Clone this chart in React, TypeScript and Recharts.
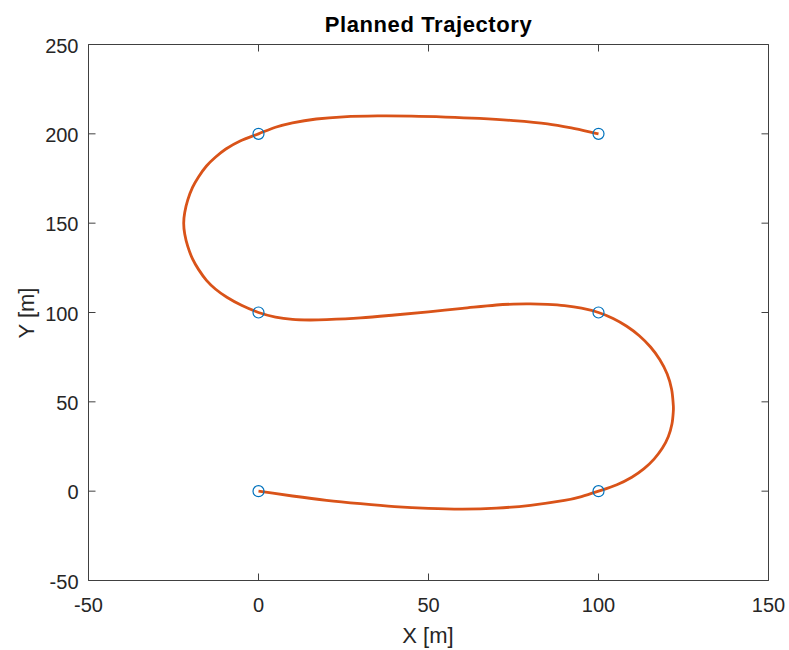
import { ComposedChart, Line, Scatter, XAxis, YAxis } from "recharts";

// trajectory samples, in path order
const trajX = [
  0, 10, 20, 30, 40, 50, 60, 70, 80, 90, 95, 100,
  105.4, 109.8, 113.4, 116.4, 118.8, 120.55, 121.6, 122, 122, 121.5, 120.2, 118.05, 115.3, 112, 108.3, 104.3, 100,
  95, 90, 85, 80, 75, 70, 60, 50, 40, 30, 20, 15, 10, 5, 0,
  -5, -9.3, -12.6, -15.3, -17.6, -19.4, -20.8, -21.7, -22, -21.7, -20.8, -19.4, -17.6, -15.3, -12.6, -9.6, -5.4, 0,
  5, 10, 17, 25, 35, 45, 55, 65, 75, 85, 92, 100,
];
const trajY = [
  0, -2.7, -5.1, -7, -8.6, -9.6, -10, -9.5, -7.9, -5.2, -3, 0,
  3.6, 7.8, 12.6, 18.1, 24.1, 30.6, 37.6, 44.6, 48.2, 57.1, 65.6, 73.6, 80.7, 87, 92.3, 96.65, 100,
  102.4, 103.8, 104.5, 104.8, 104.7, 104.2, 102.3, 100.4, 98.6, 97, 96, 95.8, 96.1, 97.4, 100,
  104, 108.5, 113, 118, 124, 130, 137, 144, 150, 156, 163, 170, 176, 182, 187, 191.5, 196, 200,
  203.7, 206.2, 208.3, 209.5, 210, 209.9, 209.4, 208.6, 207.4, 205.6, 203.3, 200,
];

// waypoints (circles)
const waypointX = [0, 100, 100, 0, 0, 100];
const waypointY = [0, 0, 100, 100, 200, 200];

const xTicks = [-50, 0, 50, 100, 150];
const yTicks = [-50, 0, 50, 100, 150, 200, 250];

const trajectory = trajX.map((x, i) => ({ x, y: trajY[i] }));
const waypoints = waypointX.map((x, i) => ({ x, y: waypointY[i] }));

const font = "'Liberation Sans', Arial, Helvetica, sans-serif";
const axisColor = "#404040";
const textColor = "#262626";
const tickLen = 7;

// chord-length catmull-rom style curve, handles loops and uneven spacing
const smoothCurve = (context: any) => {
  let pts: number[][] = [];
  return {
    areaStart() {},
    areaEnd() {},
    lineStart() {
      pts = [];
    },
    point(x: number, y: number) {
      pts.push([+x, +y]);
    },
    lineEnd() {
      const n = pts.length;
      if (!n) return;
      context.moveTo(pts[0][0], pts[0][1]);
      if (n === 1) return;
      const d: number[] = [];
      for (let i = 0; i < n - 1; i++) {
        d.push(Math.hypot(pts[i + 1][0] - pts[i][0], pts[i + 1][1] - pts[i][1]) || 1e-6);
      }
      const tan = pts.map((_, i) => {
        const a = pts[Math.max(i - 1, 0)];
        const b = pts[Math.min(i + 1, n - 1)];
        const len = (i > 0 ? d[i - 1] : 0) + (i < n - 1 ? d[i] : 0);
        return [(b[0] - a[0]) / len, (b[1] - a[1]) / len];
      });
      for (let i = 0; i < n - 1; i++) {
        const p = pts[i];
        const q = pts[i + 1];
        const k = d[i] / 3;
        context.bezierCurveTo(
          p[0] + tan[i][0] * k,
          p[1] + tan[i][1] * k,
          q[0] - tan[i + 1][0] * k,
          q[1] - tan[i + 1][1] * k,
          q[0],
          q[1]
        );
      }
    },
  };
};

const BottomTick = (props: any) => {
  const { x, y, payload } = props;
  return (
    <g>
      <line x1={x} x2={x} y1={y} y2={y - tickLen} stroke={axisColor} />
      <text x={x} y={y + 31} textAnchor="middle" fontSize={20} fontFamily={font} fill={textColor}>
        {payload.value}
      </text>
    </g>
  );
};

const LeftTick = (props: any) => {
  const { x, y, payload } = props;
  return (
    <g>
      <line x1={x} x2={x + tickLen} y1={y} y2={y} stroke={axisColor} />
      <text x={x - 10} y={y + 8} textAnchor="end" fontSize={20} fontFamily={font} fill={textColor}>
        {payload.value}
      </text>
    </g>
  );
};

const TopTick = (props: any) => (
  <line x1={props.x} x2={props.x} y1={props.y} y2={props.y + tickLen} stroke={axisColor} />
);

const RightTick = (props: any) => (
  <line x1={props.x} x2={props.x - tickLen} y1={props.y} y2={props.y} stroke={axisColor} />
);

const Ring = (props: any) => (
  <circle cx={props.cx} cy={props.cy} r={5.5} fill="none" stroke="#0072BD" strokeWidth={1.2} />
);

export default function App() {
  return (
    <div style={{ position: "absolute", left: 0, top: 0, background: "#fff" }}>
      <ComposedChart
        width={789}
        height={650}
        margin={{ top: 43.5, right: 19.5, bottom: 0, left: 0.5 }}
      >
        <XAxis
          dataKey="x"
          type="number"
          domain={[-50, 150]}
          ticks={xTicks}
          interval={0}
          allowDataOverflow
          height={69.5}
          tickSize={0}
          tickMargin={0}
          tickLine={false}
          axisLine={{ stroke: axisColor }}
          tick={<BottomTick />}
        />
        <XAxis
          xAxisId="top"
          orientation="top"
          dataKey="x"
          type="number"
          domain={[-50, 150]}
          ticks={xTicks}
          interval={0}
          allowDataOverflow
          height={1}
          tickSize={0}
          tickMargin={0}
          tickLine={false}
          axisLine={{ stroke: axisColor }}
          tick={<TopTick />}
        />
        <YAxis
          type="number"
          domain={[-50, 250]}
          ticks={yTicks}
          interval={0}
          allowDataOverflow
          width={88}
          tickSize={0}
          tickMargin={0}
          tickLine={false}
          axisLine={{ stroke: axisColor }}
          tick={<LeftTick />}
        />
        <YAxis
          yAxisId="right"
          orientation="right"
          type="number"
          domain={[-50, 250]}
          ticks={yTicks}
          interval={0}
          allowDataOverflow
          width={1}
          tickSize={0}
          tickMargin={0}
          tickLine={false}
          axisLine={{ stroke: axisColor }}
          tick={<RightTick />}
        />
        <Scatter data={waypoints} dataKey="y" shape={<Ring />} isAnimationActive={false} />
        <Line
          data={trajectory}
          dataKey="y"
          type={smoothCurve as any}
          stroke="#D95319"
          strokeWidth={2.8}
          dot={false}
          activeDot={false}
          isAnimationActive={false}
        />
        <text x={428.5} y={32} textAnchor="middle" fontSize={22} fontWeight="bold" fontFamily={font} fill="#000" letterSpacing={0.6}>
          Planned Trajectory
        </text>
        <text x={428} y={643} textAnchor="middle" fontSize={22} fontFamily={font} fill={textColor}>
          X [m]
        </text>
        <text x={34} y={313} textAnchor="middle" fontSize={22} fontFamily={font} fill={textColor} transform="rotate(-90 34 313)">
          Y [m]
        </text>
      </ComposedChart>
    </div>
  );
}
